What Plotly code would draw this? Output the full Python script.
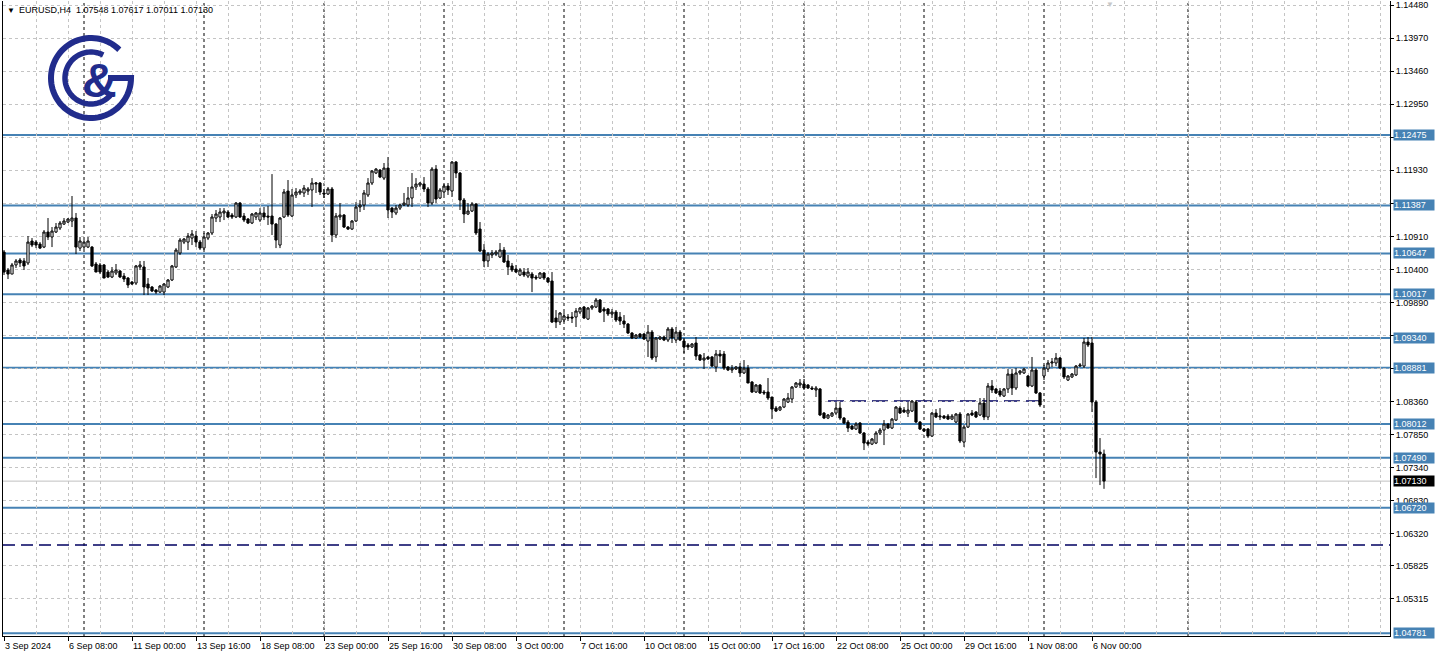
import numpy as np
import plotly.graph_objects as go

# ---------------- data (EURUSD H4) ----------------
opens = [
    1.10668, 1.10390, 1.10328, 1.10468, 1.10545, 1.10530, 1.10499, 1.10838, 1.10822, 1.10791,
    1.10745, 1.10977, 1.10900, 1.10977, 1.11039, 1.11100, 1.11131, 1.11147, 1.11193, 1.10729,
    1.10745, 1.10745, 1.10745, 1.10483, 1.10468, 1.10468, 1.10359, 1.10282, 1.10344, 1.10375,
    1.10297, 1.10266, 1.10205, 1.10189, 1.10437, 1.10437, 1.10174, 1.10128, 1.10081, 1.10050,
    1.10050, 1.10128, 1.10236, 1.10437, 1.10653, 1.10822, 1.10822, 1.10884, 1.10915, 1.10822,
    1.10729, 1.10884, 1.10962, 1.11193, 1.11209, 1.11271, 1.11286, 1.11239, 1.11209, 1.11425,
    1.11224, 1.11178, 1.11116, 1.11209, 1.11162, 1.11271, 1.11224, 1.11224, 1.11100, 1.10776,
    1.11209, 1.11610, 1.11224, 1.11549, 1.11580, 1.11580, 1.11610, 1.11626, 1.11718, 1.11734,
    1.11580, 1.11564, 1.11641, 1.10931, 1.11209, 1.11239, 1.11054, 1.11023, 1.11147, 1.11363,
    1.11394, 1.11549, 1.11734, 1.11888, 1.11934, 1.11810, 1.11965, 1.11347, 1.11271, 1.11347,
    1.11394, 1.11394, 1.11502, 1.11672, 1.11703, 1.11718, 1.11641, 1.11425, 1.11949, 1.11502,
    1.11595, 1.11687, 1.11610, 1.12058, 1.11888, 1.11471, 1.11255, 1.11301, 1.11409, 1.11023,
    1.10699, 1.10530, 1.10622, 1.10637, 1.10591, 1.10699, 1.10530, 1.10453, 1.10406, 1.10313,
    1.10359, 1.10297, 1.10328, 1.10282, 1.10266, 1.10344, 1.10266, 1.10220, 1.09649, 1.09587,
    1.09618, 1.09664, 1.09664, 1.09664, 1.09741, 1.09819, 1.09633, 1.09803, 1.09819, 1.09927,
    1.09788, 1.09788, 1.09711, 1.09741, 1.09664, 1.09603, 1.09556, 1.09417, 1.09340, 1.09402,
    1.09402, 1.09293, 1.09432, 1.09047, 1.09324, 1.09355, 1.09309, 1.09479, 1.09309, 1.09432,
    1.09293, 1.09232, 1.09201, 1.09263, 1.09077, 1.09000, 1.09047, 1.09047, 1.08892, 1.09093,
    1.09093, 1.08892, 1.08846, 1.08861, 1.08892, 1.08800, 1.08876, 1.08660, 1.08506, 1.08614,
    1.08506, 1.08506, 1.08429, 1.08258, 1.08228, 1.08274, 1.08351, 1.08398, 1.08583, 1.08614,
    1.08629, 1.08614, 1.08568, 1.08537, 1.08553, 1.08181, 1.08104, 1.08135, 1.08181, 1.08258,
    1.08104, 1.08042, 1.07981, 1.07934, 1.08027, 1.07873, 1.07733, 1.07702, 1.07718, 1.07873,
    1.07919, 1.08011, 1.07950, 1.08073, 1.08258, 1.08228, 1.08181, 1.08212, 1.08351, 1.08042,
    1.07934, 1.07934, 1.07826, 1.08181, 1.08120, 1.08135, 1.08135, 1.08088, 1.08042, 1.08166,
    1.07733, 1.07965, 1.08181, 1.08197, 1.08151, 1.08336, 1.08120, 1.08599, 1.08553, 1.08522,
    1.08444, 1.08553, 1.08784, 1.08568, 1.08800, 1.08800, 1.08753, 1.08599, 1.08846, 1.08491,
    1.08753, 1.08861, 1.08954, 1.08954, 1.09031, 1.08876, 1.08691, 1.08738, 1.08769, 1.08907,
    1.08907, 1.09278, 1.09263, 1.08351, 1.07579, 1.07548,
]
highs = [
    1.10699, 1.10421, 1.10499, 1.10560, 1.10575, 1.10575, 1.10915, 1.10884, 1.10853, 1.10822,
    1.11008, 1.11193, 1.11054, 1.11116, 1.11147, 1.11193, 1.11193, 1.11533, 1.11271, 1.10900,
    1.10853, 1.10900, 1.10760, 1.10514, 1.10499, 1.10483, 1.10390, 1.10437, 1.10483, 1.10390,
    1.10344, 1.10282, 1.10220, 1.10468, 1.10530, 1.10530, 1.10266, 1.10143, 1.10097, 1.10159,
    1.10189, 1.10251, 1.10468, 1.10729, 1.10884, 1.10884, 1.10962, 1.11008, 1.10992, 1.10853,
    1.10962, 1.10977, 1.11255, 1.11317, 1.11347, 1.11347, 1.11317, 1.11271, 1.11440, 1.11440,
    1.11271, 1.11193, 1.11271, 1.11286, 1.11347, 1.11363, 1.11379, 1.11872, 1.11116, 1.11209,
    1.11641, 1.11780, 1.11641, 1.11656, 1.11641, 1.11703, 1.11672, 1.11810, 1.11749, 1.11749,
    1.11641, 1.11672, 1.11672, 1.11271, 1.11425, 1.11255, 1.11070, 1.11162, 1.11440, 1.11471,
    1.11626, 1.11810, 1.11934, 1.11965, 1.11949, 1.12043, 1.12135, 1.11363, 1.11394, 1.11409,
    1.11580, 1.11672, 1.11888, 1.11810, 1.11749, 1.11826, 1.11672, 1.11980, 1.12011, 1.11656,
    1.11718, 1.11734, 1.12074, 1.12074, 1.11903, 1.11502, 1.11425, 1.11440, 1.11425, 1.11131,
    1.10791, 1.10668, 1.10699, 1.10699, 1.10807, 1.10745, 1.10622, 1.10499, 1.10468, 1.10421,
    1.10421, 1.10421, 1.10359, 1.10313, 1.10359, 1.10359, 1.10282, 1.10359, 1.09772, 1.09741,
    1.09741, 1.09710, 1.09741, 1.09803, 1.09819, 1.09834, 1.09819, 1.09850, 1.09958, 1.09942,
    1.09819, 1.09803, 1.09788, 1.09772, 1.09741, 1.09695, 1.09572, 1.09432, 1.09402, 1.09417,
    1.09417, 1.09541, 1.09463, 1.09355, 1.09371, 1.09371, 1.09510, 1.09510, 1.09510, 1.09463,
    1.09340, 1.09263, 1.09263, 1.09355, 1.09093, 1.09108, 1.09062, 1.09062, 1.09155, 1.09155,
    1.09139, 1.08907, 1.08923, 1.08907, 1.08954, 1.09000, 1.08923, 1.08676, 1.08629, 1.08629,
    1.08537, 1.08722, 1.08429, 1.08289, 1.08289, 1.08413, 1.08491, 1.08599, 1.08660, 1.08707,
    1.08707, 1.08629, 1.08599, 1.08599, 1.08568, 1.08197, 1.08166, 1.08197, 1.08351, 1.08351,
    1.08120, 1.08073, 1.07996, 1.08042, 1.08042, 1.07888, 1.07764, 1.07795, 1.07903, 1.07950,
    1.08073, 1.08027, 1.08104, 1.08289, 1.08289, 1.08274, 1.08351, 1.08382, 1.08382, 1.08058,
    1.07950, 1.07950, 1.08197, 1.08243, 1.08258, 1.08151, 1.08166, 1.08166, 1.08181, 1.08197,
    1.07996, 1.08181, 1.08228, 1.08212, 1.08413, 1.08413, 1.08645, 1.08691, 1.08568, 1.08568,
    1.08568, 1.08861, 1.08861, 1.08876, 1.08846, 1.08876, 1.08769, 1.09047, 1.08876, 1.08506,
    1.08923, 1.09000, 1.09031, 1.09108, 1.09047, 1.08892, 1.08769, 1.08800, 1.08923, 1.08954,
    1.09340, 1.09355, 1.09355, 1.08382, 1.07795, 1.07617,
]
lows = [
    1.10313, 1.10251, 1.10328, 1.10421, 1.10437, 1.10390, 1.10468, 1.10745, 1.10729, 1.10714,
    1.10729, 1.10853, 1.10745, 1.10962, 1.11008, 1.11085, 1.11116, 1.11054, 1.10637, 1.10684,
    1.10714, 1.10729, 1.10437, 1.10359, 1.10328, 1.10266, 1.10266, 1.10266, 1.10313, 1.10266,
    1.10205, 1.10112, 1.10159, 1.10159, 1.10390, 1.10004, 1.10004, 1.10050, 1.10019, 1.10035,
    1.10004, 1.10112, 1.10220, 1.10421, 1.10622, 1.10791, 1.10699, 1.10776, 1.10745, 1.10699,
    1.10699, 1.10853, 1.10931, 1.11131, 1.11131, 1.11162, 1.11193, 1.11178, 1.11193, 1.11193,
    1.11131, 1.11100, 1.11100, 1.11162, 1.11131, 1.11162, 1.11085, 1.10931, 1.10729, 1.10729,
    1.11193, 1.11209, 1.11209, 1.11502, 1.11549, 1.11518, 1.11549, 1.11363, 1.11580, 1.11549,
    1.11502, 1.11549, 1.10822, 1.10884, 1.11162, 1.11039, 1.11008, 1.11008, 1.11131, 1.11286,
    1.11317, 1.11518, 1.11703, 1.11872, 1.11810, 1.11780, 1.11193, 1.11193, 1.11239, 1.11317,
    1.11379, 1.11363, 1.11363, 1.11626, 1.11672, 1.11595, 1.11363, 1.11394, 1.11425, 1.11487,
    1.11549, 1.11549, 1.11518, 1.11810, 1.11317, 1.11116, 1.11239, 1.11286, 1.10931, 1.10668,
    1.10437, 1.10437, 1.10575, 1.10606, 1.10575, 1.10499, 1.10313, 1.10359, 1.10344, 1.10297,
    1.10282, 1.10266, 1.10050, 1.10236, 1.10251, 1.10236, 1.10189, 1.09572, 1.09494, 1.09541,
    1.09587, 1.09603, 1.09572, 1.09510, 1.09711, 1.09633, 1.09618, 1.09772, 1.09803, 1.09726,
    1.09587, 1.09680, 1.09649, 1.09587, 1.09541, 1.09494, 1.09402, 1.09324, 1.09324, 1.09340,
    1.09309, 1.09047, 1.09000, 1.08969, 1.09309, 1.09293, 1.09278, 1.09263, 1.09263, 1.09293,
    1.09108, 1.09155, 1.09186, 1.09000, 1.08985, 1.08861, 1.09000, 1.08892, 1.08815, 1.08954,
    1.08846, 1.08830, 1.08800, 1.08846, 1.08738, 1.08784, 1.08645, 1.08491, 1.08491, 1.08475,
    1.08460, 1.08382, 1.08088, 1.08197, 1.08212, 1.08258, 1.08336, 1.08336, 1.08568, 1.08568,
    1.08553, 1.08553, 1.08537, 1.08429, 1.08135, 1.08088, 1.08088, 1.08120, 1.08151, 1.08073,
    1.08011, 1.07888, 1.07919, 1.07919, 1.07857, 1.07610, 1.07671, 1.07687, 1.07702, 1.07842,
    1.07687, 1.07934, 1.07934, 1.08058, 1.08166, 1.08181, 1.08120, 1.08197, 1.08027, 1.07919,
    1.07888, 1.07795, 1.07811, 1.08104, 1.08073, 1.08088, 1.08073, 1.08073, 1.08027, 1.07718,
    1.07656, 1.07950, 1.08135, 1.08104, 1.08135, 1.08073, 1.08073, 1.08491, 1.08475, 1.08429,
    1.08429, 1.08491, 1.08460, 1.08537, 1.08769, 1.08784, 1.08583, 1.08583, 1.08475, 1.08274,
    1.08691, 1.08815, 1.08892, 1.08907, 1.08861, 1.08707, 1.08676, 1.08722, 1.08753, 1.08892,
    1.08876, 1.09201, 1.08197, 1.07177, 1.07069, 1.07011,
]
closes = [
    1.10359, 1.10328, 1.10468, 1.10530, 1.10499, 1.10453, 1.10822, 1.10776, 1.10776, 1.10729,
    1.10977, 1.10900, 1.10992, 1.11054, 1.11116, 1.11147, 1.11178, 1.11193, 1.10745, 1.10838,
    1.10822, 1.10838, 1.10453, 1.10359, 1.10359, 1.10266, 1.10282, 1.10375, 1.10390, 1.10282,
    1.10251, 1.10159, 1.10174, 1.10453, 1.10468, 1.10128, 1.10112, 1.10066, 1.10050, 1.10143,
    1.10174, 1.10236, 1.10453, 1.10699, 1.10853, 1.10869, 1.10915, 1.10946, 1.10822, 1.10729,
    1.10900, 1.10962, 1.11209, 1.11255, 1.11286, 1.11301, 1.11209, 1.11209, 1.11425, 1.11209,
    1.11162, 1.11116, 1.11255, 1.11271, 1.11271, 1.11209, 1.11209, 1.11100, 1.10853, 1.11193,
    1.11595, 1.11239, 1.11549, 1.11595, 1.11610, 1.11656, 1.11641, 1.11734, 1.11734, 1.11595,
    1.11564, 1.11641, 1.10931, 1.11224, 1.11239, 1.11054, 1.11023, 1.11147, 1.11363, 1.11394,
    1.11580, 1.11734, 1.11919, 1.11949, 1.11826, 1.11965, 1.11317, 1.11286, 1.11347, 1.11394,
    1.11425, 1.11502, 1.11672, 1.11718, 1.11734, 1.11641, 1.11425, 1.11949, 1.11487, 1.11626,
    1.11687, 1.11626, 1.12058, 1.11888, 1.11471, 1.11255, 1.11301, 1.11409, 1.10962, 1.10684,
    1.10530, 1.10637, 1.10653, 1.10668, 1.10699, 1.10514, 1.10437, 1.10390, 1.10359, 1.10390,
    1.10313, 1.10359, 1.10266, 1.10266, 1.10344, 1.10266, 1.10205, 1.09587, 1.09587, 1.09726,
    1.09680, 1.09649, 1.09649, 1.09757, 1.09803, 1.09649, 1.09803, 1.09834, 1.09927, 1.09741,
    1.09757, 1.09711, 1.09741, 1.09618, 1.09603, 1.09556, 1.09417, 1.09340, 1.09386, 1.09355,
    1.09324, 1.09432, 1.09031, 1.09340, 1.09355, 1.09309, 1.09479, 1.09340, 1.09432, 1.09309,
    1.09201, 1.09201, 1.09247, 1.09062, 1.09000, 1.09031, 1.09016, 1.08907, 1.09093, 1.09062,
    1.08876, 1.08846, 1.08876, 1.08892, 1.08800, 1.08876, 1.08645, 1.08506, 1.08614, 1.08491,
    1.08491, 1.08413, 1.08243, 1.08212, 1.08274, 1.08398, 1.08413, 1.08583, 1.08645, 1.08645,
    1.08568, 1.08568, 1.08553, 1.08568, 1.08151, 1.08104, 1.08151, 1.08181, 1.08258, 1.08104,
    1.08027, 1.07950, 1.07934, 1.08011, 1.07873, 1.07718, 1.07702, 1.07780, 1.07873, 1.07919,
    1.08011, 1.07950, 1.08088, 1.08274, 1.08181, 1.08197, 1.08228, 1.08367, 1.08042, 1.07934,
    1.07903, 1.07826, 1.08181, 1.08120, 1.08135, 1.08104, 1.08088, 1.08135, 1.08166, 1.07749,
    1.07965, 1.08166, 1.08151, 1.08120, 1.08336, 1.08120, 1.08599, 1.08537, 1.08491, 1.08460,
    1.08553, 1.08784, 1.08568, 1.08800, 1.08830, 1.08861, 1.08599, 1.08846, 1.08491, 1.08305,
    1.08876, 1.08954, 1.08969, 1.09031, 1.08876, 1.08738, 1.08753, 1.08784, 1.08907, 1.08923,
    1.09278, 1.09232, 1.08351, 1.07579, 1.07548, 1.07130,
]

# time-axis labels (bar index -> label)
label_bars = [0, 16, 32, 48, 64, 80, 96, 112, 128, 144, 160, 176, 192, 208, 224, 240, 256, 272]
label_texts = ["3 Sep 2024", "6 Sep 08:00", "11 Sep 00:00", "13 Sep 16:00", "18 Sep 08:00",
               "23 Sep 00:00", "25 Sep 16:00", "30 Sep 08:00", "3 Oct 00:00", "7 Oct 16:00",
               "10 Oct 08:00", "15 Oct 00:00", "17 Oct 16:00", "22 Oct 08:00", "25 Oct 00:00",
               "29 Oct 16:00", "1 Nov 08:00", "6 Nov 00:00"]
week_start_bars = [20, 50, 80, 110, 140, 170, 200, 230, 260, 296]
shift_marker_bar = 276.5

# price axis ticks
price_ticks = [1.14480, 1.13970, 1.13460, 1.12950, 1.12440, 1.11930, 1.11420, 1.10910, 1.10400,
               1.09890, 1.09380, 1.08870, 1.08360, 1.07850, 1.07340, 1.06830, 1.06320, 1.05825,
               1.05315]

# horizontal levels
levels = [1.12475, 1.11387, 1.10647, 1.10017, 1.09340, 1.08881, 1.08012, 1.07490, 1.06720, 1.04781]
dashed_level = 1.06143
range_level = 1.08367
range_level_bars = [206, 259]
last_price = 1.07130
header = "EURUSD,H4  1.07548 1.07617 1.07011 1.07130"

# ---------------- figure ----------------
FONT = "Liberation Sans, Arial, sans-serif"
BLUE = "#4682B4"
GRID = "#c4c4c4"
NAVY = "#000060"
LOGO = "#212c8c"

bars = list(range(len(opens)))
fig = go.Figure()
fig.add_trace(go.Candlestick(
    x=bars, open=opens, high=highs, low=lows, close=closes,
    increasing=dict(line=dict(color="black", width=1), fillcolor="white"),
    decreasing=dict(line=dict(color="black", width=1), fillcolor="black"),
    whiskerwidth=0, hoverinfo="skip", showlegend=False,
))

# week separators
for b in week_start_bars:
    fig.add_shape(type="line", xref="x", yref="paper", x0=b, x1=b, y0=0, y1=1,
                  line=dict(color="black", width=1, dash="3px,3px"), layer="below")

# current price line
fig.add_shape(type="line", xref="paper", yref="y", x0=0, x1=1, y0=last_price, y1=last_price,
              line=dict(color="#c0c0c0", width=1), layer="below")

# dashed levels
fig.add_shape(type="line", xref="paper", yref="y", x0=0, x1=1, y0=dashed_level, y1=dashed_level,
              line=dict(color=NAVY, width=1.5, dash="12px,6px"), layer="below")
fig.add_shape(type="line", xref="x", yref="y", x0=range_level_bars[0], x1=range_level_bars[1],
              y0=range_level, y1=range_level,
              line=dict(color=NAVY, width=1.5, dash="16px,6px"), layer="below")

# blue levels
for lv in levels:
    fig.add_shape(type="line", xref="paper", yref="y", x0=0, x1=1, y0=lv, y1=lv,
                  line=dict(color=BLUE, width=2), layer="below")
    fig.add_annotation(x=1, xref="paper", xanchor="left", xshift=3, y=lv, yref="y",
                       text=f"{lv:.5f}", showarrow=False, bgcolor=BLUE, borderpad=0,
                       width=40, align="left",
                       font=dict(family=FONT, size=9, color="white"))

fig.add_annotation(x=1, xref="paper", xanchor="left", xshift=3, y=last_price, yref="y",
                   text=f"{last_price:.5f}", showarrow=False, bgcolor="black", borderpad=0,
                   width=40, align="left", font=dict(family=FONT, size=9, color="white"))

# time labels
for b, t in zip(label_bars, label_texts):
    fig.add_annotation(x=b, xref="x", xanchor="left", xshift=-1, y=0, yref="paper",
                       yanchor="top", yshift=-3, text=t, showarrow=False,
                       font=dict(family=FONT, size=9, color="black"))

# header
fig.add_annotation(x=0, xref="paper", xanchor="left", xshift=2, y=1, yref="paper",
                   yanchor="middle", yshift=-9, text="\u25BC", showarrow=False,
                   font=dict(family=FONT, size=8, color="black"))
fig.add_annotation(x=0, xref="paper", xanchor="left", xshift=14, y=1, yref="paper",
                   yanchor="middle", yshift=-9, text=header.replace("  ", "&nbsp; "),
                   showarrow=False, font=dict(family=FONT, size=9, color="black"))
# chart-shift marker
fig.add_annotation(x=shift_marker_bar, xref="x", xanchor="center", y=1, yref="paper",
                   yanchor="middle", yshift=-3, text="\u25BC", showarrow=False,
                   font=dict(family=FONT, size=8, color="#c8c8c8"))

# logo (decoration) drawn in pixel space from the plot's top-left corner
cx, cy = 88, -77
a = np.radians(np.linspace(45, 360, 80))
outer = " ".join(f"L{cx + 40*np.cos(t):.2f},{cy + 40*np.sin(t):.2f}" for t in a)
outer = "M" + outer[1:] + f" L{cx + 17:.2f},{cy:.2f}"
a2 = np.radians(np.linspace(62, 318, 70))
inner = " ".join(f"L{cx + 26*np.cos(t):.2f},{cy + 26*np.sin(t):.2f}" for t in a2)
inner = "M" + inner[1:]
for pth, w in [(outer, 6), (inner, 5.5)]:
    fig.add_shape(type="path", xref="paper", yref="paper", xsizemode="pixel", ysizemode="pixel",
                  xanchor=0, yanchor=1, path=pth, line=dict(color=LOGO, width=w), layer="above")
fig.add_annotation(x=0, xref="paper", xanchor="center", xshift=96, y=1, yref="paper",
                   yanchor="middle", yshift=-79, text="<b>&amp;</b>", showarrow=False,
                   font=dict(family=FONT, size=48, color=LOGO))

fig.update_layout(
    width=1439, height=658, autosize=False,
    margin=dict(l=3, r=49, t=1, b=22, pad=0),
    paper_bgcolor="white", plot_bgcolor="white", showlegend=False,
    boxgap=0.45, boxgroupgap=0,
    xaxis=dict(range=[-0.25, 346.5], rangeslider=dict(visible=False), type="linear",
               tickmode="array", tickvals=label_bars, showticklabels=False,
               ticks="outside", ticklen=4, tickcolor="black", tickwidth=1,
               showgrid=True, gridcolor=GRID, griddash="3px,3px", gridwidth=1,
               minor=dict(tickmode="linear", tick0=0, dtick=8, showgrid=True, gridcolor=GRID,
                          griddash="3px,3px", ticks=""),
               showline=True, linecolor="black", linewidth=1, zeroline=False, fixedrange=True),
    yaxis=dict(range=[1.04738, 1.14545], side="right", tickmode="array", tickvals=price_ticks,
               ticktext=[f"{v:.5f}" for v in price_ticks], ticks="outside", ticklen=3,
               tickcolor="black", tickfont=dict(family=FONT, size=9, color="black"),
               showgrid=True, gridcolor=GRID, griddash="3px,3px", gridwidth=1,
               showline=True, mirror=True, linecolor="black", linewidth=1, zeroline=False,
               fixedrange=True),
)

fig.write_html("out.html", config={"displayModeBar": False},
               post_script="document.body.style.margin='0px';document.body.style.overflow='hidden';")
